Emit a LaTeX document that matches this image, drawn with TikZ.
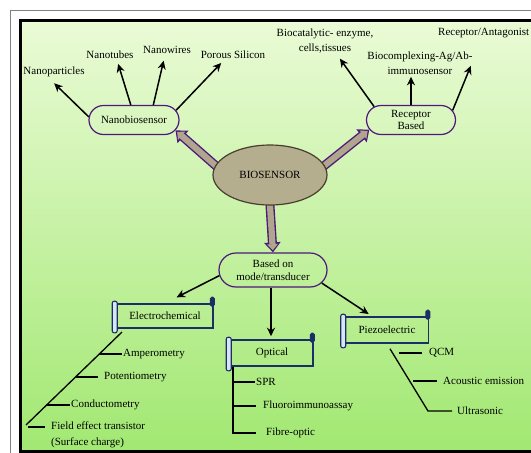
\documentclass[tikz,border=0pt]{standalone}
\usepackage{fontspec}
\setmainfont{Liberation Serif}
\usepackage{xcolor}
\usetikzlibrary{arrows.meta,shapes.geometric,shapes.misc,positioning}

\definecolor{bgtop}{RGB}{234,251,214}
\definecolor{bgbottom}{RGB}{162,232,114}
\definecolor{rim}{RGB}{78,24,124}
\definecolor{fatfill}{RGB}{176,166,142}
\definecolor{ovalfill}{RGB}{180,173,142}
\definecolor{ovalrim}{RGB}{72,62,46}
\definecolor{navy}{RGB}{28,46,104}
\definecolor{rollfill}{RGB}{214,230,242}

\pgfdeclarelayer{back}
\pgfdeclarelayer{mid}
\pgfsetlayers{back,mid,main}

\tikzset{
  txt/.style={font=\fontsize{11}{15.5}\selectfont, inner sep=1pt, align=center},
  pill/.style={rounded rectangle, draw=rim, line width=1.2pt, txt},
  scrollbox/.style={draw=navy, line width=1.6pt, txt},
  rollend/.style={draw=navy, line width=1.1pt, fill=rollfill, rounded corners=2pt},
  knob/.style={draw=navy, line width=1pt, fill=navy, rounded corners=1.5pt},
  fatrim/.style={line width=9pt, draw=rim, -{Triangle[length=10pt,width=16pt]}, shorten <=-3pt},
  fatbody/.style={line width=6.2pt, draw=fatfill, -{Triangle[length=6pt,width=10.5pt]}, shorten >=2.2pt, shorten <=-3pt},
  pointer/.style={-{Stealth[length=8.5pt,width=8pt]}, line width=1.5pt},
  tick/.style={line width=1.3pt}
}

% roll ends of a scroll box
\newcommand\scrollends[1]{%
  \draw[rollend] ([xshift=-4pt,yshift=2pt]#1.north west) rectangle ([xshift=1pt,yshift=-4pt]#1.south west);
  \draw[knob] ([xshift=-3.5pt,yshift=6pt]#1.north east) rectangle ([xshift=0.5pt,yshift=-3pt]#1.north east);
}

\begin{document}
\begin{tikzpicture}[x=1pt, y=-1pt]
    \useasboundingbox (0,0) rectangle (531,453);

    % Frame and background
    \begin{pgfonlayer}{back}
      \fill[top color=bgtop, bottom color=bgbottom] (21,21) rectangle (531,450);
      \draw[gray, line width=1.5pt] (10.5,460) -- (10.5,10.5) -- (545,10.5);
      \draw[line width=3pt] (20.5,20.5) rectangle (545,451);
    \end{pgfonlayer}

    % Centre
    \node[ellipse, draw=ovalrim, line width=1.2pt, fill=ovalfill, minimum width=114pt, minimum height=60pt, txt] (bio) at (270,175) {BIOSENSOR};

    % Nanobiosensor branch
    \node[pill, minimum width=92pt, minimum height=29pt] (nano) at (134,120) {Nanobiosensor};
    \node[txt] (nanopart) at (54,72) {Nanoparticles};
    \node[txt] (nanotubes) at (110,55) {Nanotubes};
    \node[txt] (nanowires) at (167,50) {Nanowires};
    \node[txt] (porous) at (233,55) {Porous Silicon};

    \draw[pointer, shorten >=3pt] (nano.176) -- ([xshift=-2pt,yshift=-3pt]nanopart.south);
    \draw[pointer, shorten >=4pt] (nano.102) -- ([xshift=7pt]nanotubes.south);
    \draw[pointer, shorten >=6pt] (nano.38) -- ([xshift=-2pt]nanowires.south);
    \draw[pointer, shorten >=4pt] (nano.13) -- ([xshift=-9pt]porous.south);

    % Receptor branch
    \node[pill, minimum width=91pt, minimum height=29pt] (rec) at (411,120) {Receptor\\[-3pt]Based};
    \node[txt] (biocat) at (325,41) {Biocatalytic- enzyme,\\cells,tissues};
    \node[txt] (biocomp) at (420,63) {Biocomplexing-Ag/Ab-\\immunosensor};
    \node[txt, anchor=west] (antag) at (437,33) {Receptor/Antagonist};

    \draw[pointer, shorten >=5pt] (rec.160) -- ([xshift=12pt]biocat.south);
    \draw[pointer, shorten >=1pt] (rec.north) -- (rec.north |- biocomp.south);
    \draw[pointer, shorten >=29pt] (rec.13) -- ([xshift=-2pt]antag.south);

    % Transducer branch
    \node[pill, minimum width=110pt, minimum height=34pt] (mode) at (273,270) {Based on\\[-3pt]mode/transducer};

    \node[scrollbox, minimum width=96pt, minimum height=24pt] (ec) at (165,316) {Electrochemical};
    \node[scrollbox, minimum width=82pt, minimum height=26pt] (opt) at (272,353) {Optical};
    \node[scrollbox, minimum width=83pt, minimum height=26pt] (piezo) at (387,330) {Piezoelectric};
    \scrollends{ec}
    \scrollends{opt}
    \scrollends{piezo}

    \draw[pointer, shorten >=13pt] (mode.186) -- (ec.north);
    \draw[pointer, shorten >=3pt] ([xshift=-2pt]mode.south) -- ([xshift=-2pt]mode.south |- opt.north);
    \draw[pointer, shorten >=4pt] (mode.-15) -- ([xshift=-15pt]piezo.north);

    % Fat arrows from the centre
    \begin{pgfonlayer}{mid}
      \draw[fatrim] (bio.170) -- (nano.-14);
      \draw[fatbody] (bio.170) -- (nano.-14);
      \draw[fatrim] (bio.10) -- (rec.-167);
      \draw[fatbody] (bio.10) -- (rec.-167);
      \draw[fatrim] (bio.south) -- (mode.north);
      \draw[fatbody] (bio.south) -- (mode.north);
    \end{pgfonlayer}

    % Electrochemical methods
    \coordinate (ectop) at (122,332);
    \coordinate (ecbot) at (26,425);
    \node[txt, anchor=west] (amp) at (122,354) {Amperometry};
    \node[txt, anchor=west] (pot) at (103,377) {Potentiometry};
    \node[txt, anchor=west] (cond) at (70,405) {Conductometry};
    \node[txt, anchor=west, align=left] (fet) at (50,435) {Field effect transistor\\(Surface charge)};
    \draw[tick] (ectop) -- (ecbot);
    \draw[tick] (amp.west) -- ++(-23,0);
    \draw[tick] ([xshift=-5pt]pot.west) -- ++(-22,0);
    \draw[tick] (cond.west) -- ++(-24,0);
    \draw[tick] ([xshift=-5pt,yshift=8pt]fet.west) -- ++(-17,0);

    % Optical methods
    \coordinate (optbot) at (233,433);
    \node[txt, anchor=west] (spr) at (255,382) {SPR};
    \node[txt, anchor=west] (fluoro) at (262,406) {Fluoroimmunoassay};
    \node[txt, anchor=west] (fibre) at (265,433) {Fibre-optic};
    \draw[tick] ([xshift=-39pt]opt.south) -- (optbot) -- ++(23,0);
    \draw[tick] (spr.west) -- ++(-22,0);
    \draw[tick] ([xshift=-6pt]fluoro.west) -- ++(-23,0);

    % Piezoelectric methods
    \coordinate (pzbot) at (428,411);
    \node[txt, anchor=west] (qcm) at (428,353) {QCM};
    \node[txt, anchor=west] (acou) at (442,381) {Acoustic emission};
    \node[txt, anchor=west] (ultra) at (456,411) {Ultrasonic};
    \draw[tick] ([xshift=3pt,yshift=-5pt]piezo.south) -- (pzbot) -- ++(24,0);
    \draw[tick] ([xshift=-6pt]qcm.west) -- ++(-23,0);
    \draw[tick] ([xshift=-5pt]acou.west) -- ++(-24,0);
\end{tikzpicture}
\end{document}
